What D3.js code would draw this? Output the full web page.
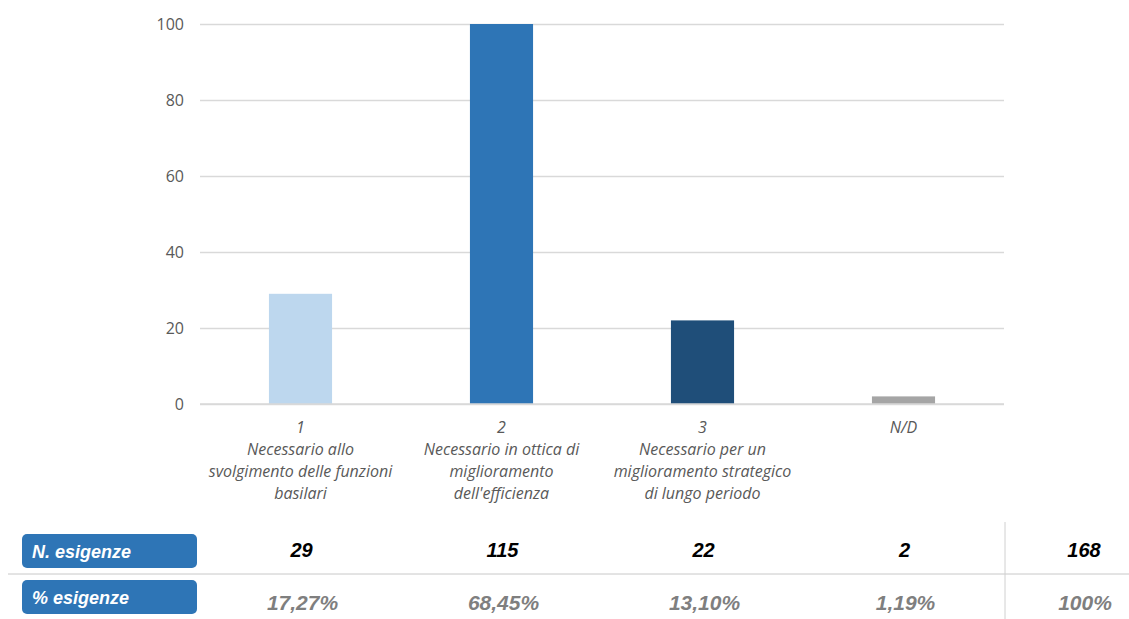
<!DOCTYPE html>
<html><head><meta charset="utf-8">
<script src="https://cdn.jsdelivr.net/npm/d3@7"></script>
<style>body{margin:0;background:#fff}svg{display:block}</style>
</head><body><svg id="c" width="1129" height="619"></svg>
<script>
const categories = ["1", "2", "3", "N/D"];
const catLabels = [
  ["1", "Necessario allo", "svolgimento delle funzioni", "basilari"],
  ["2", "Necessario in ottica di", "miglioramento", "dell'efficienza"],
  ["3", "Necessario per un", "miglioramento strategico", "di lungo periodo"],
  ["N/D"]
];
const values = [29, 115, 22, 2];
const barColors = ["#bdd7ee", "#2e75b6", "#1f4e79", "#a5a5a5"];
const yTicks = [0, 20, 40, 60, 80, 100];
const countLabels = ["29", "115", "22", "2", "168"];
const pctLabels = ["17,27%", "68,45%", "13,10%", "1,19%", "100%"];
const rowTitles = ["N. esigenze", "% esigenze"];

const svg = d3.select("#c");
const x = d3.scaleBand().domain(categories).range([200, 1004]).paddingInner(0.686).paddingOuter(0.343);
const y = d3.scaleLinear().domain([0, 100]).range([404, 24]);

// gridlines
const yAxis = d3.axisLeft(y).tickValues(yTicks).tickSize(-(1004 - 200)).tickPadding(16);
const ga = svg.append("g").attr("transform", "translate(200,0)").call(yAxis);
ga.select(".domain").remove();
ga.selectAll(".tick line").attr("stroke", "#d9d9d9").attr("stroke-width", 1.3);
ga.selectAll(".tick text").attr("fill", "#595959").style("font-family", "'Open Sans', sans-serif").style("font-size", "16px");

// bars (clipped at 100)
svg.append("defs").append("clipPath").attr("id", "plot").append("rect")
  .attr("x", 200).attr("y", y(100)).attr("width", 804).attr("height", y(0) - y(100));
svg.append("g").attr("clip-path", "url(#plot)").selectAll("rect").data(values).join("rect")
  .attr("x", (d, i) => x(categories[i]))
  .attr("width", x.bandwidth())
  .attr("y", d => y(d))
  .attr("height", d => y(0) - y(d))
  .attr("fill", (d, i) => barColors[i]);

// baseline
svg.append("line").attr("x1", 200).attr("x2", 1004).attr("y1", y(0)).attr("y2", y(0))
  .attr("stroke", "#d9d9d9").attr("stroke-width", 1.5);

// category labels
const cl = svg.append("g");
catLabels.forEach((lines, i) => {
  const cx = x(categories[i]) + x.bandwidth() / 2;
  const t = cl.append("text").attr("x", cx).attr("y", 433).attr("text-anchor", "middle")
    .attr("fill", "#595959").style("font-family", "'Open Sans', sans-serif")
    .style("font-size", "16px").style("font-style", "italic");
  lines.forEach((ln, j) => t.append("tspan").attr("x", cx).attr("y", 433 + j * 22).text(ln));
});

// table
const colX = categories.map(c => x(c) + x.bandwidth() / 2).concat([1083]);
svg.append("line").attr("x1", 8).attr("x2", 1129).attr("y1", 574).attr("y2", 574)
  .attr("stroke", "#c8c8c8").attr("stroke-width", 1);
svg.append("line").attr("x1", 1005).attr("x2", 1005).attr("y1", 522).attr("y2", 619)
  .attr("stroke", "#d0d0d0").attr("stroke-width", 1);

const rowY = [534, 580];
rowTitles.forEach((t, i) => {
  svg.append("rect").attr("x", 22).attr("y", rowY[i]).attr("width", 175).attr("height", 34)
    .attr("rx", 5).attr("fill", "#2e75b6");
  svg.append("text").attr("x", 32).attr("y", rowY[i] + 24).text(t)
    .attr("fill", "#fff").style("font-family", "'Liberation Sans', Arial, sans-serif")
    .style("font-size", "18px").style("font-weight", "bold").style("font-style", "italic");
});

svg.append("g").selectAll("text").data(countLabels).join("text")
  .attr("x", (d, i) => colX[i] + 1).attr("y", 557).attr("text-anchor", "middle").text(d => d)
  .attr("fill", "#000").style("font-family", "'Liberation Sans', Arial, sans-serif")
  .style("font-size", "20px").style("font-weight", "bold").style("font-style", "italic");

svg.append("g").selectAll("text").data(pctLabels).join("text")
  .attr("x", (d, i) => colX[i] + 2).attr("y", 610).attr("text-anchor", "middle").text(d => d)
  .attr("fill", "#7f7f7f").style("font-family", "'Liberation Sans', Arial, sans-serif")
  .style("font-size", "21px").style("font-weight", "bold").style("font-style", "italic");
</script>
</body></html>
